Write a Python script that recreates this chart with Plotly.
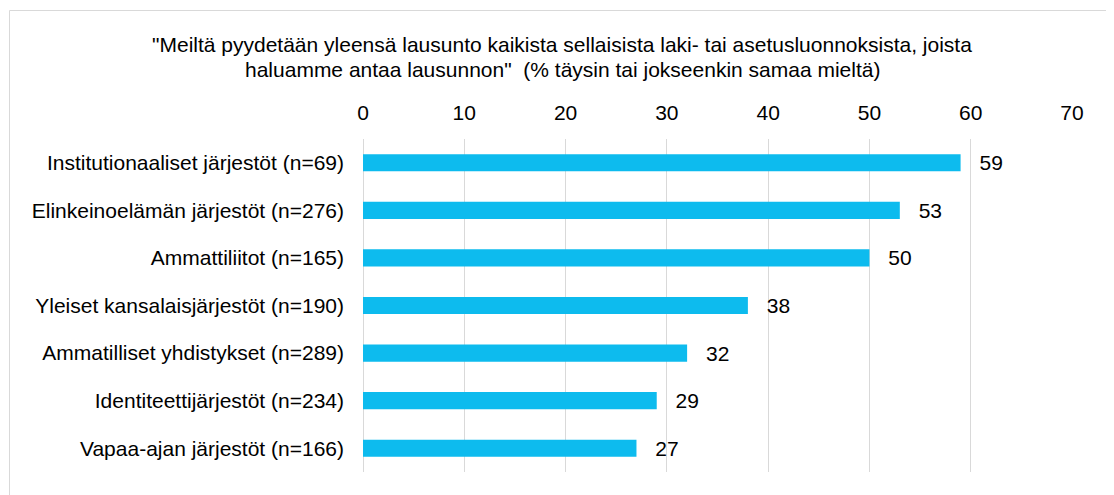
import plotly.graph_objects as go

categories = [
    "Institutionaaliset järjestöt (n=69)",
    "Elinkeinoelämän järjestöt (n=276)",
    "Ammattiliitot (n=165)",
    "Yleiset kansalaisjärjestöt (n=190)",
    "Ammatilliset yhdistykset (n=289)",
    "Identiteettijärjestöt (n=234)",
    "Vapaa-ajan järjestöt (n=166)",
]
values = [59, 53, 50, 38, 32, 29, 27]
x_ticks = [0, 10, 20, 30, 40, 50, 60, 70]
title_line1 = '"Meiltä pyydetään yleensä lausunto kaikista sellaisista laki- tai asetusluonnoksista, joista'
title_line2 = 'haluamme antaa lausunnon"  (% täysin tai jokseenkin samaa mieltä)'

# page has an 8px body margin; figure coords = page coords - 8
OFF = 8
W, H = 1114 - OFF, 495 - OFF
L, R, T, B = 363 - OFF, 42, 139 - OFF, 23
pw, ph = W - L - R, H - T - B

def px_x(px):
    return (px - OFF - L) / pw

def px_y(py):
    return (H - B - (py - OFF)) / ph

FONT = "Arial, Liberation Sans, sans-serif"
FS = 21

fig = go.Figure(go.Bar(
    x=values,
    y=categories,
    orientation="h",
    width=0.36,
    marker=dict(color="#0DBBEE", line=dict(width=0)),
    text=values,
    texttemplate="\u00a0\u00a0\u2009%{x}",
    textposition="outside",
    constraintext="none",
    textfont=dict(size=FS, color="#000000", family=FONT),
    cliponaxis=False,
))

fig.update_layout(
    width=W, height=H,
    margin=dict(l=L, r=R, t=T, b=B, pad=0),
    paper_bgcolor="white",
    plot_bgcolor="white",
    font=dict(family=FONT, size=FS, color="#000000"),
    showlegend=False,
    xaxis=dict(
        side="top",
        range=[0, 70],
        tickvals=x_ticks,
        ticktext=[str(v) for v in x_ticks],
        showgrid=True,
        gridcolor="#D9D9D9",
        gridwidth=1,
        zeroline=True,
        zerolinecolor="#D9D9D9",
        zerolinewidth=1,
        showline=False,
        ticks="",
        ticklabelstandoff=14,
        tickfont=dict(size=FS, family=FONT, color="#000000"),
        fixedrange=True,
    ),
    yaxis=dict(
        categoryorder="array",
        categoryarray=categories,
        autorange="reversed",
        showgrid=False,
        zeroline=False,
        showline=False,
        ticks="",
        ticklabelstandoff=18,
        tickfont=dict(size=FS, family=FONT, color="#000000"),
        fixedrange=True,
    ),
    annotations=[
        dict(
            text=title_line1,
            xref="paper", yref="paper",
            x=px_x(562), y=px_y(45),
            xanchor="center", yanchor="middle",
            showarrow=False,
            font=dict(size=FS, family=FONT, color="#000000"),
        ),
        dict(
            text=title_line2,
            xref="paper", yref="paper",
            x=px_x(562), y=px_y(69),
            xanchor="center", yanchor="middle",
            showarrow=False,
            font=dict(size=FS, family=FONT, color="#000000"),
        ),
    ],
    shapes=[dict(
        type="rect",
        xref="paper", yref="paper",
        x0=px_x(9.5), x1=px_x(1112.5),
        y0=px_y(505), y1=px_y(10.5),
        line=dict(color="#D9D9D9", width=1),
        fillcolor="rgba(0,0,0,0)",
        layer="below",
    )],
)

fig.write_html("out.html")
